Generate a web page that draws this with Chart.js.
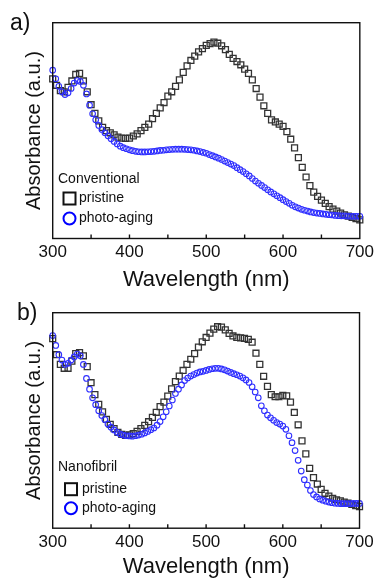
<!DOCTYPE html>
<html>
<head>
<meta charset="utf-8">
<title>Absorbance spectra</title>
<script src="https://cdn.jsdelivr.net/npm/chart.js@4.4.1/dist/chart.umd.min.js"></script>
<style>
  html, body { margin: 0; padding: 0; background: #fff; }
  body { width: 379px; height: 578px; position: relative; overflow: hidden; font-family: "Liberation Sans", Arial, sans-serif; }
  canvas { position: absolute; left: 0; }
  #chartA { top: 0; }
  #chartB { top: 290px; }
  .panel-label { position: absolute; font-size: 23px; line-height: 23px; color: #111; }
</style>
</head>
<body>
<canvas id="chartA" width="379" height="300"></canvas>
<canvas id="chartB" width="379" height="288"></canvas>
<div class="panel-label" style="left:10px; top:11px;">a)</div>
<div class="panel-label" style="left:17px; top:301px;">b)</div>
<script>
// Wavelength grids (nm) - squares every 5 nm, circles every 4 nm
const wavelengths5 = [300, 305, 310, 315, 320, 325, 330, 335, 340, 345,
    350, 355, 360, 365, 370, 375, 380, 385, 390, 395,
    400, 405, 410, 415, 420, 425, 430, 435, 440, 445,
    450, 455, 460, 465, 470, 475, 480, 485, 490, 495,
    500, 505, 510, 515, 520, 525, 530, 535, 540, 545,
    550, 555, 560, 565, 570, 575, 580, 585, 590, 595,
    600, 605, 610, 615, 620, 625, 630, 635, 640, 645,
    650, 655, 660, 665, 670, 675, 680, 685, 690, 695,
    700];
const wavelengths4 = [300, 304, 308, 312, 316, 320, 324, 328, 332, 336,
    340, 344, 348, 352, 356, 360, 364, 368, 372, 376,
    380, 384, 388, 392, 396, 400, 404, 408, 412, 416,
    420, 424, 428, 432, 436, 440, 444, 448, 452, 456,
    460, 464, 468, 472, 476, 480, 484, 488, 492, 496,
    500, 504, 508, 512, 516, 520, 524, 528, 532, 536,
    540, 544, 548, 552, 556, 560, 564, 568, 572, 576,
    580, 584, 588, 592, 596, 600, 604, 608, 612, 616,
    620, 624, 628, 632, 636, 640, 644, 648, 652, 656,
    660, 664, 668, 672, 676, 680, 684, 688, 692, 696,
    700];

// a) Conventional (absorbance, arbitrary units)
const pristineA = [74, 71, 68.5, 68, 70, 73, 76, 76.5, 73, 68,
    62, 58, 54.5, 51.5, 50, 49, 48, 47, 46.5, 46.4,
    46.5, 47.5, 48.5, 50, 51.5, 53, 55.5, 58, 60.5, 63,
    66, 68, 70.5, 73.5, 77, 80, 82.5, 84.5, 86.5, 88,
    89.5, 90.3, 91, 90.5, 89.3, 87.5, 85.3, 83.5, 82, 80.5,
    78.5, 76.5, 73.5, 69.5, 65.5, 61.5, 58, 55, 54, 53,
    52, 49.5, 46, 42, 37.5, 33, 28.5, 24.5, 21.5, 19.5,
    17.8, 16.3, 14.8, 13.6, 12.7, 11.8, 11, 10.4, 9.8, 9.2,
    8.6];
const agingA = [78, 74, 70.5, 68, 66.7, 67.5, 69.5, 72, 73.2, 72.8,
    71, 67, 61.8, 57.8, 55, 52.4, 50.5, 49, 47.6, 46.2,
    45, 43.8, 42.8, 42.1, 41.6, 41.1, 40.7, 40.4, 40.2, 40.1,
    40.1, 40.2, 40.3, 40.4, 40.6, 40.8, 40.9, 41.1, 41.2, 41.3,
    41.4, 41.4, 41.4, 41.3, 41.2, 41.1, 40.9, 40.6, 40.3, 39.9,
    39.5, 38.9, 38.4, 37.8, 37.2, 36.6, 35.9, 35.2, 34.5, 33.8,
    32.8, 31.9, 31, 30, 29, 27.8, 26.6, 25.6, 24.6, 23.6,
    22.6, 21.6, 20.7, 19.8, 18.9, 18, 17.1, 16.3, 15.4, 14.7,
    14.1, 13.5, 13.1, 12.7, 12.3, 12, 11.8, 11.6, 11.4, 11.2,
    11, 10.9, 10.7, 10.6, 10.5, 10.5, 10.4, 10.3, 10.3, 10.3,
    10.3];

// b) Nanofibril
const pristineB = [88, 80.5, 76, 74.2, 74.2, 77.5, 81, 81.5, 80, 75,
    67.5, 62, 57.5, 54, 50.5, 48.2, 46.2, 44.5, 43.5, 43.1,
    43.3, 43.9, 44.9, 46.2, 47.7, 49.4, 51.4, 53.8, 56.4, 58.5,
    61.3, 64.7, 68, 70.6, 73.2, 76, 78.4, 81, 84, 86.5,
    88.5, 90.5, 92.4, 93.5, 93.3, 92, 90.4, 89.2, 88.5, 88.3,
    88.1, 87.6, 86.3, 81.2, 76, 70.5, 65.8, 62, 61, 61,
    61.6, 61.4, 58.5, 53.7, 48, 40.5, 34.5, 27.8, 23.5, 20.5,
    18, 16.2, 14.9, 13.9, 13.2, 12.7, 12.1, 11.6, 11, 10.5,
    10];
const agingB = [89.4, 84.8, 80.5, 78, 76, 76.5, 78, 79.5, 80.8, 80,
    76, 69.5, 64.5, 60.5, 57.3, 54.5, 52.3, 50.4, 48.3, 46.9,
    45.6, 44.5, 43.7, 43.2, 42.9, 42.8, 42.7, 42.9, 43.2, 43.6,
    44.2, 44.9, 45.7, 46.5, 47.8, 49.5, 51.7, 54, 56.7, 59.5,
    62.5, 64.5, 66.5, 68.5, 69.7, 70.6, 71.3, 72, 72.5, 72.8,
    73.2, 73.7, 74, 74.2, 74.2, 73.9, 73.5, 72.9, 72.3, 71.7,
    71.2, 70.6, 69.8, 68.8, 67.6, 65.6, 63.2, 60.5, 56.8, 54.5,
    52.5, 51.2, 50.1, 49, 48.3, 47.4, 45.9, 42.9, 39.7, 36,
    31.5, 26.5, 22.5, 20, 17.5, 15.6, 14.5, 13.6, 13, 12.5,
    12.1, 11.8, 11.6, 11.5, 11.4, 11.4, 11.4, 11.4, 11.5, 11.5,
    11.5];

// inward tick marks on the bottom axis
const tickMarks = [350, 400, 450, 500, 550, 600, 650];

Chart.defaults.font.family = '"Liberation Sans", Arial, sans-serif';
Chart.defaults.color = '#111';

function toPoints(xs, ys) {
    return xs.map((x, i) => ({ x: x, y: ys[i] }));
}

// Box around the plot plus small ticks pointing in
const frameAndTicks = {
    id: 'frameAndTicks',
    afterDatasetsDraw(chart) {
        const { ctx, chartArea: a, scales } = chart;
        ctx.save();
        ctx.strokeStyle = '#111';
        ctx.lineWidth = 1.4;
        ctx.strokeRect(a.left, a.top, a.right - a.left, a.bottom - a.top);
        ctx.beginPath();
        tickMarks.forEach(v => {
            const x = scales.x.getPixelForValue(v);
            ctx.moveTo(x, a.bottom);
            ctx.lineTo(x, a.bottom - 4);
        });
        ctx.stroke();
        ctx.restore();
    }
};

// Legend in the lower-left corner of the plot
const insetLegend = {
    id: 'insetLegend',
    afterDraw(chart, args, opts) {
        const { ctx, chartArea: a } = chart;
        const mx = a.left + opts.markerX;
        const tx = a.left + opts.textX;
        const y1 = a.bottom - opts.row1Y;
        const y2 = a.bottom - opts.row2Y;
        ctx.save();
        ctx.font = '14px "Liberation Sans", Arial, sans-serif';
        ctx.fillStyle = '#111';
        ctx.textBaseline = 'middle';
        ctx.textAlign = 'left';
        ctx.fillText(opts.heading, a.left + opts.headX, a.bottom - opts.headY);

        ctx.lineWidth = 2;
        ctx.strokeStyle = '#111';
        ctx.strokeRect(mx - 6, y1 - 6, 12, 12);
        ctx.fillText('pristine', tx, y1);

        ctx.strokeStyle = '#0000ff';
        ctx.beginPath();
        ctx.arc(mx, y2, 6, 0, Math.PI * 2);
        ctx.stroke();
        ctx.fillText('photo-aging', tx, y2);
        ctx.restore();
    }
};

function createChart(id, pristine, aging, legendOpts, axisOpts) {
    return new Chart(document.getElementById(id), {
        type: 'scatter',
        data: {
            datasets: [{
                label: 'photo-aging',
                data: toPoints(wavelengths4, aging),
                pointStyle: 'circle',
                pointRadius: 2.8,
                pointBorderWidth: 1.1,
                borderColor: '#2f2fff',
                backgroundColor: 'rgba(0,0,0,0)',
                showLine: false,
                clip: false,
                order: 0
            }, {
                label: 'pristine',
                data: toPoints(wavelengths5, pristine),
                pointStyle: 'rect',
                pointRadius: 4.2,
                pointBorderWidth: 1.3,
                borderColor: '#333',
                backgroundColor: 'rgba(0,0,0,0)',
                showLine: false,
                clip: false,
                order: 1
            }]
        },
        options: {
            responsive: false,
            animation: false,
            events: [],
            layout: { padding: { left: 22, right: 17, top: 22.7, bottom: axisOpts.bottomPad } },
            plugins: {
                legend: { display: false },
                tooltip: { enabled: false },
                insetLegend: legendOpts
            },
            scales: {
                x: {
                    type: 'linear',
                    min: 300,
                    max: 700,
                    ticks: { stepSize: 100, padding: axisOpts.tickPad, maxRotation: 0,
                             font: { size: 17, lineHeight: 1 }, color: '#111' },
                    grid: { display: false, drawTicks: false },
                    border: { display: false },
                    title: { display: true, text: 'Wavelength (nm)', color: '#111',
                             font: { size: 22, lineHeight: 1 },
                             padding: { top: axisOpts.titlePad, bottom: 0 } }
                },
                y: {
                    min: 0,
                    max: 100,
                    ticks: { display: false },
                    grid: { display: false, drawTicks: false },
                    border: { display: false },
                    title: { display: true, text: 'Absorbance (a.u.)', color: '#111',
                             font: { size: 20, lineHeight: 1.2 },
                             padding: { top: 0, bottom: 6.7 } }
                }
            }
        },
        plugins: [frameAndTicks, insetLegend]
    });
}

let chartA = createChart('chartA', pristineA, agingA,
    { heading: 'Conventional', headX: 5.3, headY: 59.5, markerX: 16.8, textX: 26.3, row1Y: 40, row2Y: 20 },
    { tickPad: 5, titlePad: 3.5, bottomPad: 9 });
let chartB = createChart('chartB', pristineB, agingB,
    { heading: 'Nanofibril', headX: 5.3, headY: 61, markerX: 18.3, textX: 29.3, row1Y: 39, row2Y: 20 },
    { tickPad: 5.3, titlePad: 0, bottomPad: 0.2 });
</script>
</body>
</html>
